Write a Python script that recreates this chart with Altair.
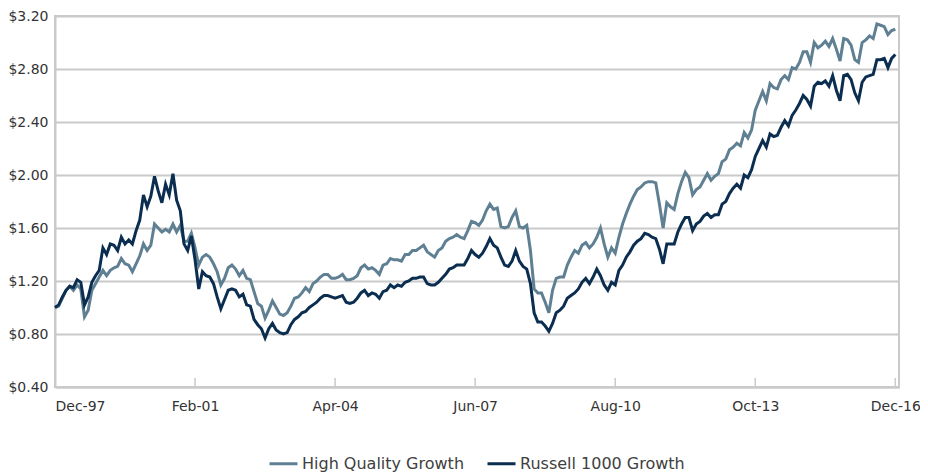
import altair as alt
import pandas as pd

tick_labels = ["Dec-97", "Feb-01", "Apr-04", "Jun-07", "Aug-10", "Oct-13", "Dec-16"]
tick_step = 38

hqg = [
    1.00, 1.01, 1.07, 1.13, 1.16, 1.13, 1.17, 1.14, 0.93, 0.98,
    1.13, 1.18, 1.23, 1.28, 1.24, 1.28, 1.30, 1.31, 1.37, 1.33,
    1.32, 1.27, 1.33, 1.39, 1.48, 1.43, 1.47, 1.63, 1.60, 1.57,
    1.59, 1.57, 1.63, 1.57, 1.62, 1.50, 1.50, 1.56, 1.45, 1.32,
    1.38, 1.40, 1.38, 1.33, 1.27, 1.17, 1.22, 1.30, 1.32, 1.29,
    1.24, 1.28, 1.22, 1.21, 1.12, 1.03, 1.01, 0.92, 0.98, 1.05,
    1.00, 0.95, 0.94, 0.96, 1.01, 1.07, 1.08, 1.11, 1.15, 1.12,
    1.18, 1.20, 1.23, 1.25, 1.25, 1.22, 1.22, 1.23, 1.25, 1.21,
    1.21, 1.22, 1.24, 1.30, 1.32, 1.29, 1.30, 1.28, 1.25, 1.32,
    1.33, 1.37, 1.36, 1.36, 1.35, 1.40, 1.40, 1.43, 1.43, 1.45,
    1.47, 1.42, 1.40, 1.38, 1.43, 1.45, 1.50, 1.52, 1.53, 1.55,
    1.53, 1.52, 1.58, 1.65, 1.64, 1.62, 1.66, 1.73, 1.78, 1.74,
    1.75, 1.61, 1.60, 1.61, 1.68, 1.73, 1.61, 1.60, 1.62, 1.43,
    1.14, 1.11, 1.11, 1.04, 0.96, 1.13, 1.22, 1.23, 1.23, 1.32,
    1.38, 1.43, 1.41, 1.47, 1.49, 1.45, 1.48, 1.53, 1.60, 1.48,
    1.38, 1.45, 1.41, 1.53, 1.63, 1.71, 1.78, 1.84, 1.89, 1.91,
    1.94, 1.95, 1.95, 1.94, 1.78, 1.60, 1.79, 1.76, 1.74, 1.86,
    1.95, 2.02, 1.98, 1.85, 1.89, 1.91, 1.96, 2.01, 1.96, 1.99,
    2.01, 2.10, 2.12, 2.19, 2.21, 2.24, 2.22, 2.32, 2.28, 2.34,
    2.49, 2.56, 2.63, 2.56, 2.69, 2.66, 2.65, 2.72, 2.75, 2.72,
    2.81, 2.80, 2.85, 2.93, 2.93, 2.85, 3.00, 2.96, 2.98, 3.01,
    2.97, 3.03, 2.95, 2.86, 3.03, 3.02, 2.98, 2.87, 2.85, 3.00,
    3.02, 3.05, 3.03, 3.14, 3.13, 3.12, 3.06, 3.09, 3.10,
]

r1000g = [
    1.00, 1.02, 1.08, 1.13, 1.16, 1.15, 1.21, 1.19, 1.02, 1.08,
    1.19, 1.24, 1.28, 1.45, 1.40, 1.48, 1.47, 1.43, 1.53, 1.48,
    1.51, 1.48, 1.58, 1.66, 1.85, 1.76, 1.84, 1.99, 1.88, 1.79,
    1.93, 1.85, 2.01, 1.81, 1.73, 1.48, 1.43, 1.54, 1.36, 1.14,
    1.27, 1.24, 1.23, 1.18, 1.08, 0.99, 1.06, 1.13, 1.14, 1.13,
    1.08, 1.10, 1.02, 1.01, 0.91, 0.87, 0.84, 0.77, 0.84, 0.88,
    0.83, 0.81, 0.80, 0.81, 0.87, 0.91, 0.93, 0.96, 0.97, 1.00,
    1.02, 1.04, 1.07, 1.09, 1.09, 1.08, 1.07, 1.08, 1.09, 1.04,
    1.03, 1.04, 1.07, 1.11, 1.13, 1.09, 1.11, 1.10, 1.07, 1.12,
    1.13, 1.17, 1.15, 1.17, 1.16, 1.19, 1.20, 1.22, 1.22, 1.23,
    1.23, 1.18, 1.17, 1.17, 1.19, 1.22, 1.25, 1.29, 1.30, 1.32,
    1.32, 1.32, 1.37, 1.43, 1.40, 1.38, 1.41, 1.46, 1.52, 1.47,
    1.45, 1.38, 1.32, 1.31, 1.35, 1.43, 1.35, 1.31, 1.29, 1.18,
    0.96, 0.89, 0.89, 0.86, 0.82, 0.88, 0.96, 0.98, 1.01, 1.07,
    1.09, 1.11, 1.14, 1.19, 1.22, 1.18, 1.23, 1.29, 1.24, 1.17,
    1.13, 1.19, 1.17, 1.28, 1.32, 1.38, 1.42, 1.47, 1.50, 1.52,
    1.56, 1.55, 1.53, 1.52, 1.44, 1.33, 1.48, 1.48, 1.48, 1.57,
    1.63, 1.68, 1.68, 1.58, 1.63, 1.65, 1.69, 1.71, 1.68, 1.70,
    1.70, 1.78, 1.80, 1.86, 1.90, 1.93, 1.90, 2.00, 1.98, 2.04,
    2.14, 2.20, 2.26, 2.21, 2.31, 2.29, 2.30, 2.36, 2.41, 2.37,
    2.45, 2.49, 2.54, 2.60, 2.57, 2.52, 2.67, 2.70, 2.69, 2.71,
    2.67, 2.75, 2.64, 2.56, 2.75, 2.76, 2.72, 2.62, 2.56, 2.70,
    2.74, 2.75, 2.76, 2.87, 2.87, 2.88, 2.81, 2.88, 2.91,
]

series_names = ["High Quality Growth", "Russell 1000 Growth"]
series_colors = ["#5f7f93", "#0b2d50"]
y_ticks = [0.40, 0.80, 1.20, 1.60, 2.00, 2.40, 2.80, 3.20]

rows = []
for name, vals in zip(series_names, [hqg, r1000g]):
    for i, v in enumerate(vals):
        rows.append({"idx": i, "value": v, "series": name})
df = pd.DataFrame(rows)

tick_df = pd.DataFrame({"idx": [k * tick_step for k in range(len(tick_labels))]})

label_expr = "[" + ",".join("'%s'" % t for t in tick_labels) + "][round(datum.value/%d)]" % tick_step

W, H = 844, 371
PAD_L, PAD_T = 47, 8
FONT = "DejaVu Sans"
GRID = "#cacaca"

x_scale = alt.Scale(domain=[0, 229], nice=False, zero=False)
y_scale = alt.Scale(domain=[0.4, 3.2], nice=False, zero=False)
color_scale = alt.Scale(domain=series_names, range=series_colors)

x_axis = alt.Axis(
    values=[k * tick_step for k in range(len(tick_labels))],
    labelExpr=label_expr,
    title=None,
    grid=False,
    ticks=False,
    domainColor=GRID,
    domainWidth=2,
    labelFont=FONT,
    labelFontSize=14,
    labelColor="#333333",
    labelPadding=12,
)
y_axis = alt.Axis(
    values=y_ticks,
    format="$.2f",
    title=None,
    grid=True,
    gridColor=GRID,
    gridWidth=2,
    ticks=False,
    domainColor=GRID,
    domainWidth=2,
    labelFont=FONT,
    labelFontSize=14,
    labelColor="#333333",
    labelPadding=7,
)

base = alt.Chart(df)

light = base.transform_filter(alt.datum.series == series_names[0]).mark_line(
    strokeWidth=3
).encode(
    x=alt.X("idx:Q", scale=x_scale, axis=x_axis),
    y=alt.Y("value:Q", scale=y_scale, axis=y_axis),
    color=alt.Color(
        "series:N",
        scale=color_scale,
        legend=alt.Legend(
            title=None,
            orient="none",
            legendX=268 - 8 - PAD_L,
            legendY=448 - 8 - PAD_T,
            direction="horizontal",
            symbolType="stroke",
            symbolSize=784,
            symbolStrokeWidth=3,
            labelFont=FONT,
            labelFontSize=16,
            labelLimit=400,
            labelColor="#404040",
            labelOffset=3,
            columnPadding=16,
        ),
    ),
)

dark = base.transform_filter(alt.datum.series == series_names[1]).mark_line(
    strokeWidth=3
).encode(
    x=alt.X("idx:Q", scale=x_scale),
    y=alt.Y("value:Q", scale=y_scale),
    color=alt.Color("series:N", scale=color_scale),
)

ticks = alt.Chart(tick_df).mark_rule(color=GRID, strokeWidth=1.5).encode(
    x=alt.X("idx:Q", scale=x_scale),
    y=alt.value(H - 9),
    y2=alt.value(H),
)

chart = (
    alt.layer(ticks, light, dark)
    .properties(
        width=W,
        height=H,
        autosize=alt.AutoSizeParams(type="none"),
        padding={"left": PAD_L, "top": PAD_T, "right": 21, "bottom": 90},
    )
    .configure_view(stroke=GRID, strokeWidth=2)
)

chart.save("out.html", embed_options={"renderer": "svg", "actions": False})
